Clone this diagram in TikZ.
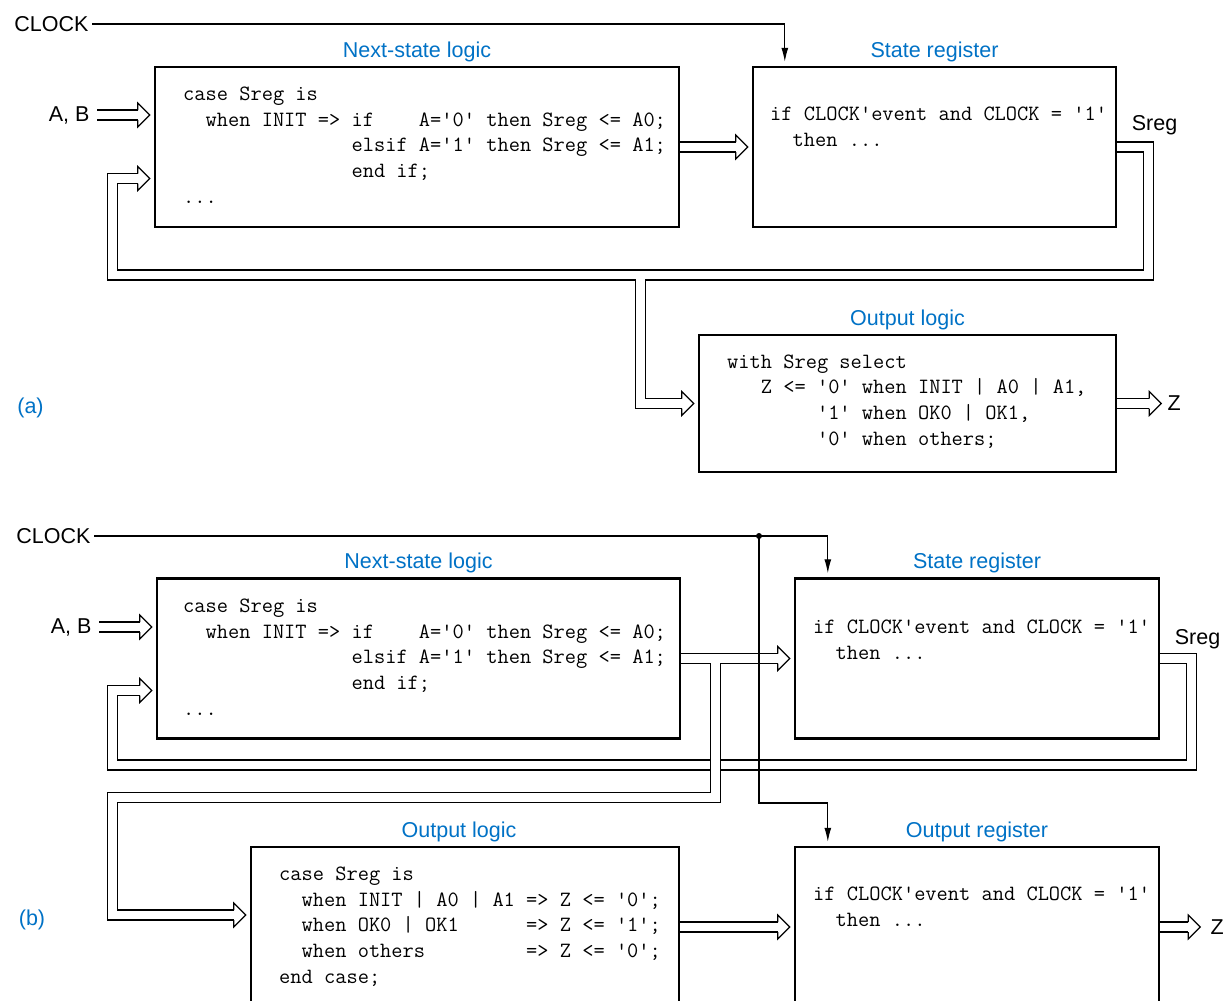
\documentclass[tikz,border=0pt]{standalone}
\usepackage{fontspec}
\setmainfont{Liberation Sans}
\usepackage{tikz}
\usetikzlibrary{arrows.meta, positioning, calc}
\definecolor{LabelBlue}{RGB}{0,114,198}
\newcommand{\sigfont}{\fontsize{21.5}{25}\selectfont}
\newcommand{\vhdlfont}{\fontsize{21.8}{25.7}\selectfont\ttfamily}

\begin{document}
\begin{tikzpicture}[
  x=1pt, y=-1pt,
  box/.style={draw, line width=2.4pt, minimum height=160pt},
  heading/.style={font=\sigfont, text=LabelBlue, inner sep=0pt},
  boxlabel/.style={heading, yshift=4pt},
  vhdl/.style={font=\vhdlfont, align=left, inner sep=0pt, anchor=north west},
  sig/.style={font=\sigfont},
  wire/.style={line width=1.2pt},
  bus/.style={double, double distance=8.8pt, line width=1.2pt},
  clk/.style={wire, -{Latex[length=14pt, width=7pt]}},
  dot/.style={circle, fill, inner sep=0pt, minimum size=6pt},
  bushead/.pic={\draw[wire] (-12,-5) -- (-12,-12) -- (0,0) -- (-12,12) -- (-12,5);}
]
  \useasboundingbox (0,0) rectangle (1226,1001);
  \fill[white] (0,0) rectangle (1226,1001);

  % ---------------- (a) ----------------
  \node[box, minimum width=524pt, label={[boxlabel]above:Next-state logic}] (nsla) at (417,147) {};
  \node[box, minimum width=363pt, right=71.6pt of nsla, label={[boxlabel]above:State register}] (sra) {};
  \node[box, minimum width=417pt, minimum height=137pt, label={[boxlabel]above:Output logic}] (ola) at (907.5,403.5) {};

  \node[vhdl] (nslaText) at (183,86.6) {case Sreg is\\
~~when INIT => if~~~~A='0' then Sreg <= A0;\\
~~~~~~~~~~~~~~~elsif A='1' then Sreg <= A1;\\
~~~~~~~~~~~~~~~end if;\\
...};
  \node[vhdl] (sraText) at (770,106.6) {if CLOCK'event and CLOCK = '1'\\
~~then ...};
  \node[vhdl] (olaText) at (727,354.3) {with Sreg select\\
~~~Z <= '0' when INIT | A0 | A1,\\
~~~~~~~~'1' when OK0 | OK1,\\
~~~~~~~~'0' when others;};

  % inputs
  \coordinate (abA) at (97,115);
  \node[sig, left=4pt of abA] (abAlbl) {A, B};
  \coordinate (abAtip) at ($(abA -| nsla.west)+(-4,0)$);
  \draw[bus] (abA) -- ([xshift=-12pt]abAtip);
  \pic at (abAtip) {bushead};

  \coordinate (sraTip) at ($(sra.west)+(-4,0)$);
  \draw[bus] (nsla.east) -- ([xshift=-12pt]sraTip);
  \pic at (sraTip) {bushead};

  % Sreg feedback and branch to output logic
  \coordinate (loopA) at (1148.5,275);
  \coordinate (fbA) at (112.5,178.5);
  \coordinate (brA) at (640.5,275);
  \coordinate (fbAtip) at ($(fbA -| nsla.west)+(-4,0)$);
  \coordinate (olaTip) at ($(ola.west)+(-4,0)$);
  \draw[bus] (sra.east) -| (loopA) -| (fbA) -- ([xshift=-12pt]fbAtip)
    (brA) |- ([xshift=-12pt]olaTip);
  \pic at (fbAtip) {bushead};
  \pic at (olaTip) {bushead};
  \node[sig, anchor=base] (sregA) at (1154.5,130.4) {Sreg};

  \coordinate (zAtip) at ($(ola.east)+(44,0)$);
  \draw[bus] (ola.east) -- ([xshift=-12pt]zAtip);
  \pic at (zAtip) {bushead};
  \node[sig, right=3pt of zAtip] (zA) {Z};

  \node[sig, anchor=east] (clkA) at (92,24) {CLOCK};
  \coordinate (clkAtip) at ($(sra.north west)+(33,-4)$);
  \draw[clk] (clkA.east) -| (clkAtip);

  \node[heading, anchor=base] (tagA) at (30.5,413.5) {(a)};

  % ---------------- (b) ----------------
  \node[box, minimum width=523pt, label={[boxlabel]above:Next-state logic}] (nslb) at (418.5,658.5) {};
  \node[box, minimum width=364pt, right=112.6pt of nslb, label={[boxlabel]above:State register}] (srb) {};
  \node[box, minimum width=428pt, label={[boxlabel, xshift=-6pt]above:Output logic}] (olb) at (465,927) {};
  \node[box, minimum width=364pt, right=113.6pt of olb, label={[boxlabel]above:Output register}] (orb) {};

  \node[vhdl] (nslbText) at (183,598.6) {case Sreg is\\
~~when INIT => if~~~~A='0' then Sreg <= A0;\\
~~~~~~~~~~~~~~~elsif A='1' then Sreg <= A1;\\
~~~~~~~~~~~~~~~end if;\\
...};
  \node[vhdl] (srbText) at (813,619.6) {if CLOCK'event and CLOCK = '1'\\
~~then ...};
  \node[vhdl] (olbText) at (279,866.6) {case Sreg is\\
~~when INIT | A0 | A1 => Z <= '0';\\
~~when OK0 | OK1~~~~~~=> Z <= '1';\\
~~when others~~~~~~~~~=> Z <= '0';\\
end case;};
  \node[vhdl] (orbText) at (813,886.6) {if CLOCK'event and CLOCK = '1'\\
~~then ...};

  \coordinate (abB) at (99,627);
  \node[sig, left=4pt of abB] (abBlbl) {A, B};
  \coordinate (abBtip) at ($(abB -| nslb.west)+(-4,0)$);
  \draw[bus] (abB) -- ([xshift=-12pt]abBtip);
  \pic at (abBtip) {bushead};

  % Sreg feedback
  \coordinate (loopB) at (1191.5,765);
  \coordinate (fbB) at (112.5,690.5);
  \coordinate (fbBtip) at ($(fbB -| nslb.west)+(-4,0)$);
  \draw[bus] (srb.east) -| (loopB) -| (fbB) -- ([xshift=-12pt]fbBtip);
  \pic at (fbBtip) {bushead};
  \node[sig, anchor=base] (sregB) at (1197.5,644) {Sreg};

  % next state to register, branch to output logic
  \coordinate (srbTip) at ($(srb.west)+(-4,0)$);
  \coordinate (brB) at (715.5,797.5);
  \coordinate (olinB) at (112.5,915);
  \coordinate (olbTip) at ($(olinB -| olb.west)+(-4,0)$);
  \draw[bus] (nslb.east) -- ([xshift=-12pt]srbTip)
    (nslb.east -| brB) -- (brB) -| (olinB) -- ([xshift=-12pt]olbTip);
  \pic at (srbTip) {bushead};
  \pic at (olbTip) {bushead};

  \coordinate (orbTip) at ($(orb.west)+(-4,0)$);
  \draw[bus] (olb.east) -- ([xshift=-12pt]orbTip);
  \pic at (orbTip) {bushead};

  \coordinate (zBtip) at ($(orb.east)+(40,0)$);
  \draw[bus] (orb.east) -- ([xshift=-12pt]zBtip);
  \pic at (zBtip) {bushead};
  \node[sig, right=7pt of zBtip] (zB) {Z};

  % clock
  \node[sig, anchor=east] (clkB) at (94,536) {CLOCK};
  \node[dot] (dotB) at (759,536) {};
  \coordinate (clkBtip) at ($(srb.north west)+(34,-4)$);
  \coordinate (clkBknee) at (759,803);
  \coordinate (orbClk) at ($(orb.north west)+(34,-4)$);
  \draw[wire] (clkB.east) -- (dotB.center);
  \draw[clk] (dotB.center) -| (clkBtip);
  \draw[clk] (dotB.center) -- (clkBknee) -| (orbClk);

  \node[heading, anchor=base] (tagB) at (32,925.5) {(b)};
\end{tikzpicture}
\end{document}
